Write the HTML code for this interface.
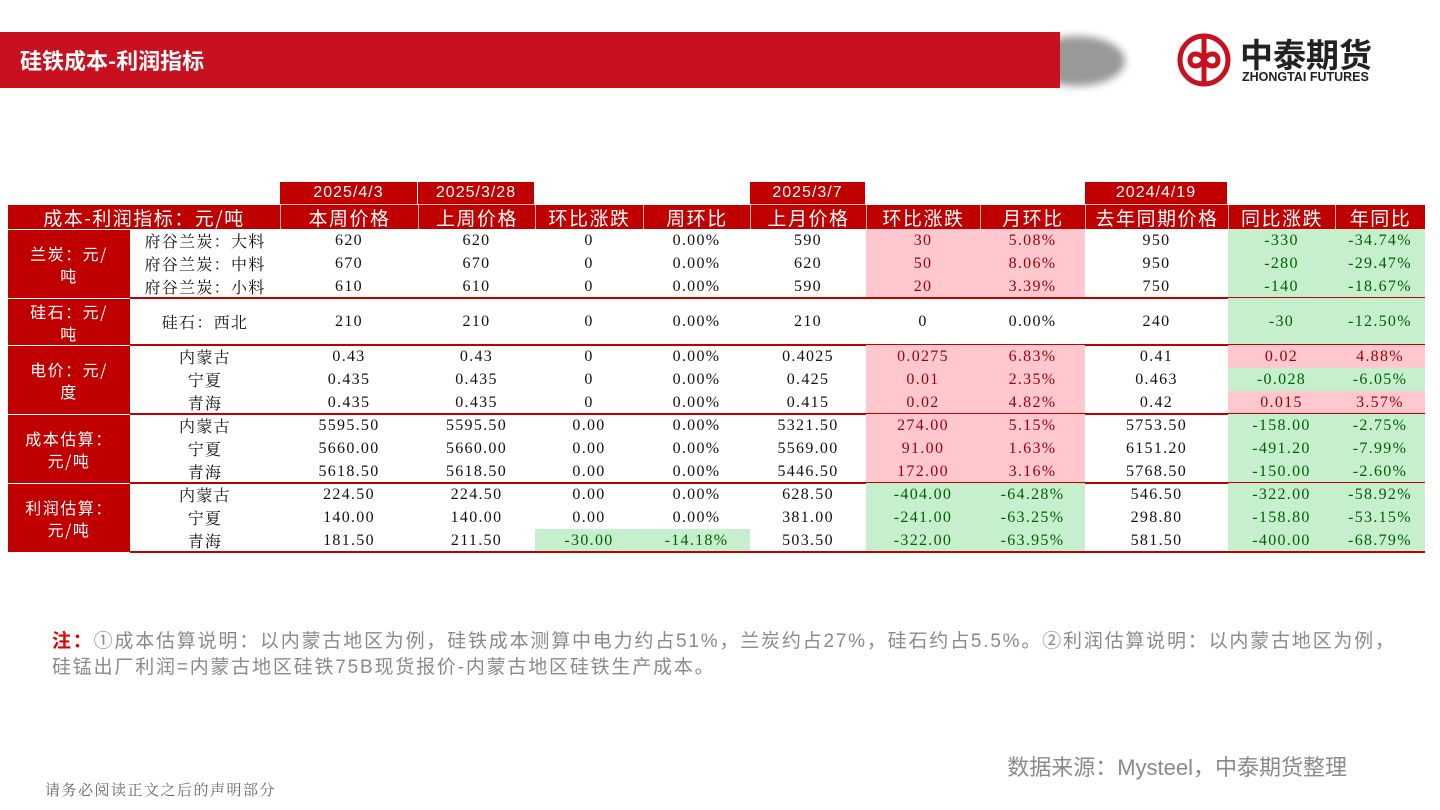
<!DOCTYPE html>
<html><head><meta charset="utf-8">
<style>
body{margin:0;width:1440px;height:810px;position:relative;background:#fff;overflow:hidden;font-family:"Liberation Sans","Noto Sans CJK SC",sans-serif}
.abs{position:absolute}
.c{position:absolute;display:flex;align-items:center;justify-content:center;box-sizing:border-box;white-space:nowrap}
.d{font-family:"Liberation Serif","Noto Serif CJK SC",serif;font-size:16px;color:#111;letter-spacing:1.3px}
.h{background:#c00000;color:#fff;font-size:19px;font-family:"Noto Sans CJK SC",sans-serif;letter-spacing:1.5px}
</style></head><body>
<div class="abs" style="left:0;top:32px;width:1060px;height:56px;background:#c8101e"></div>
<div class="abs" style="left:1030px;top:36px;width:95px;height:50px;border-radius:50%;background:#999;filter:blur(4px);z-index:-1"></div>
<div class="abs" style="left:20px;top:44px;color:#fff;font-size:22px;font-weight:bold;font-family:'Noto Sans CJK SC',sans-serif">硅铁成本-利润指标</div>
<svg class="abs" style="left:1176px;top:32px" width="56" height="56" viewBox="0 0 56 56"><circle cx="28" cy="28" r="24" fill="none" stroke="#c8101e" stroke-width="5"/><path d="M28 6v44M14 28c0-8 10-8 14 0s14 8 14 0-10-8-14 0-14 8-14 0z" fill="none" stroke="#c8101e" stroke-width="5"/></svg>
<div class="abs" style="left:1240px;top:34px;font-size:33px;font-weight:bold;color:#222;font-family:'Noto Sans CJK SC',sans-serif;line-height:38px">中泰期货</div>
<div class="abs" style="left:1242px;top:70px;font-size:12.5px;font-weight:bold;color:#222">ZHONGTAI FUTURES</div>
<div id="tbl"></div>
<div class="abs" style="left:52px;top:629px;width:1375px;font-size:19px;color:#8a8a8a;line-height:26px;letter-spacing:1.8px"><span style="color:#e00000;font-weight:bold">注：</span>①成本估算说明：以内蒙古地区为例，硅铁成本测算中电力约占51%，兰炭约占27%，硅石约占5.5%。②利润估算说明：以内蒙古地区为例，<br>硅锰出厂利润=内蒙古地区硅铁75B现货报价-内蒙古地区硅铁生产成本。</div>
<div class="abs" style="right:93px;top:750px;font-size:22px;color:#8a8a8a">数据来源：Mysteel，中泰期货整理</div>
<div class="abs" style="left:45px;top:779px;font-size:15px;color:#666;font-family:'Noto Serif CJK SC',serif;letter-spacing:1.5px">请务必阅读正文之后的声明部分</div>
<script>
const colX=[8,130,280,418,535,643,750,866,980,1085,1228,1335,1425];
const headers=["本周价格","上周价格","环比涨跌","周环比","上月价格","环比涨跌","月环比","去年同期价格","同比涨跌","年同比"];
const dates=["2025/4/3","2025/3/28","","","2025/3/7","","","2024/4/19","",""];
const groups=["兰炭：元/\n吨","硅石：元/\n吨","电价：元/\n度","成本估算：\n元/吨","利润估算：\n元/吨"];
const groupSizes=[3,1,3,3,3];
const items=["府谷兰炭：大料","府谷兰炭：中料","府谷兰炭：小料","硅石：西北","内蒙古","宁夏","青海","内蒙古","宁夏","青海","内蒙古","宁夏","青海"];
const values=[
["620","620","0","0.00%","590","30","5.08%","950","-330","-34.74%"],
["670","670","0","0.00%","620","50","8.06%","950","-280","-29.47%"],
["610","610","0","0.00%","590","20","3.39%","750","-140","-18.67%"],
["210","210","0","0.00%","210","0","0.00%","240","-30","-12.50%"],
["0.43","0.43","0","0.00%","0.4025","0.0275","6.83%","0.41","0.02","4.88%"],
["0.435","0.435","0","0.00%","0.425","0.01","2.35%","0.463","-0.028","-6.05%"],
["0.435","0.435","0","0.00%","0.415","0.02","4.82%","0.42","0.015","3.57%"],
["5595.50","5595.50","0.00","0.00%","5321.50","274.00","5.15%","5753.50","-158.00","-2.75%"],
["5660.00","5660.00","0.00","0.00%","5569.00","91.00","1.63%","6151.20","-491.20","-7.99%"],
["5618.50","5618.50","0.00","0.00%","5446.50","172.00","3.16%","5768.50","-150.00","-2.60%"],
["224.50","224.50","0.00","0.00%","628.50","-404.00","-64.28%","546.50","-322.00","-58.92%"],
["140.00","140.00","0.00","0.00%","381.00","-241.00","-63.25%","298.80","-158.80","-53.15%"],
["181.50","211.50","-30.00","-14.18%","503.50","-322.00","-63.95%","581.50","-400.00","-68.79%"]];
const colorCols=[2,3,5,6,8,9];
const tbl=document.getElementById('tbl');
function cell(x,y,w,h,cls,txt,style){const d=document.createElement('div');d.className='c '+cls;d.style.cssText=`left:${x}px;top:${y}px;width:${w}px;height:${h}px;`+(style||'');d.textContent=txt;tbl.appendChild(d);return d;}
for(let i=0;i<10;i++){const x=colX[i+2],w=colX[i+3]-x;
 if(dates[i]){const e=cell(x,182,w,23,'h',dates[i],'font-size:16px;font-family:"Liberation Sans",sans-serif;letter-spacing:1px;border-right:1px solid #fff;border-bottom:1px solid #f0c0c0');
 
 }
 const e=cell(x,205,w,24,'h',headers[i],'border-left:1px solid #f0b0b0');
 
 }
const corner=cell(8,205,272,24,'h','成本-利润指标：元/吨');


const rowH=[23,23,23,47,23,23,23,23,23,23,23,23,23];
let y=229,r=0;
for(let g=0;g<groups.length;g++){
 const gy=y;let gh=0;
 for(let k=0;k<groupSizes[g];k++){
  const h=rowH[r];
  const it=cell(130,y,150,h,'d',items[r]);
  
  
  for(let c=0;c<10;c++){
   const v=values[r][c];const x=colX[c+2],w=colX[c+3]-x;let st='';
   if(colorCols.includes(c)&&v!=='0'&&v!=='0.00%'&&v!=='0.00'){
     st=v.startsWith('-')?'background:#c6efce;color:#006100;':'background:#ffc7ce;color:#9c0006;';}
   const e=cell(x,y,w,h,'d',v,st);
   
   }
  y+=h;gh+=h;r++;}
 const lbl=cell(8,gy,122,gh,'h',groups[g],'font-size:16px;white-space:pre-line;text-align:center;line-height:22px;border-top:1px solid #fff');
 
 
 const ln=document.createElement('div');ln.className='abs';ln.style.cssText=`left:130px;top:${y-1}px;width:1295px;height:2px;background:#c00000`;
 
 
 tbl.appendChild(ln);
}
</script>
</body></html>
